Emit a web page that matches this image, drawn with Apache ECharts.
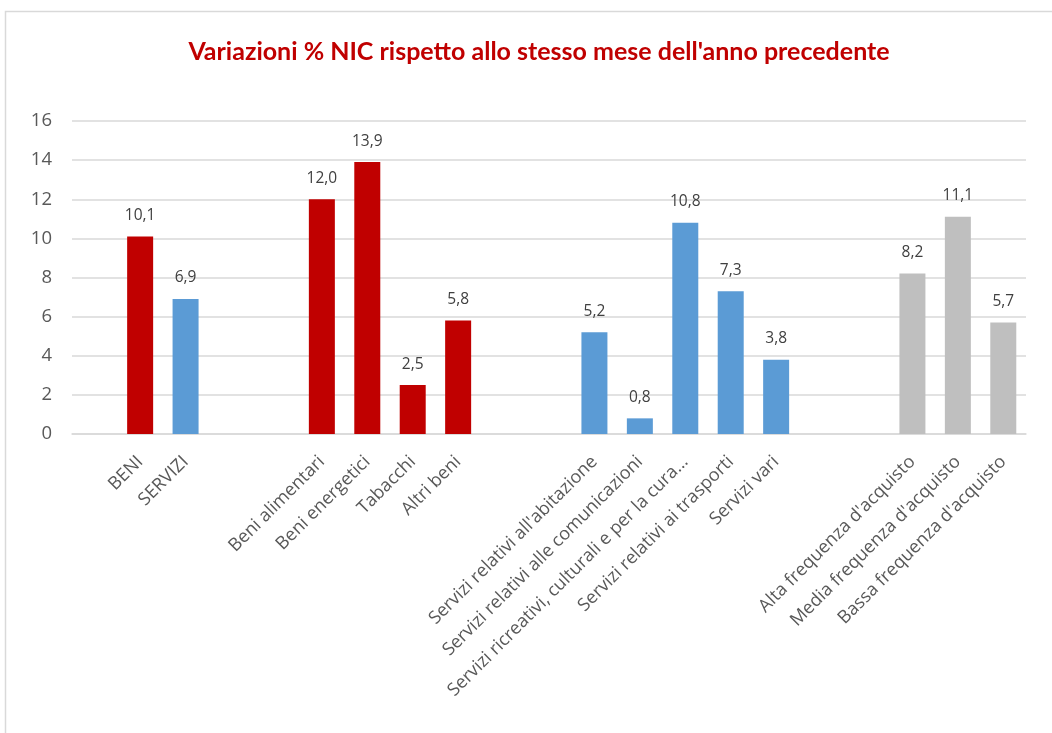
<!DOCTYPE html>
<html>
<head>
<meta charset="utf-8">
<script src="https://cdn.jsdelivr.net/npm/echarts@6/dist/echarts.min.js"></script>
<style>
  html, body { margin: 0; padding: 0; background: #fff; }
  #main { width: 1052px; height: 733px; }
</style>
</head>
<body>
<div id="main"></div>
<script>
// categorie (le stringhe vuote sono gli spazi tra i gruppi)
var categories = [
  '', 'BENI', 'SERVIZI', '', '',
  'Beni alimentari', 'Beni energetici', 'Tabacchi', 'Altri beni', '', '',
  "Servizi relativi all'abitazione", 'Servizi relativi alle comunicazioni',
  'Servizi ricreativi, culturali e per la cura...', 'Servizi relativi ai trasporti', 'Servizi vari', '', '',
  "Alta frequenza d'acquisto", "Media frequenza d'acquisto", "Bassa frequenza d'acquisto"
];
var values = [
  null, 10.1, 6.9, null, null,
  12.0, 13.9, 2.5, 5.8, null, null,
  5.2, 0.8, 10.8, 7.3, 3.8, null, null,
  8.2, 11.1, 5.7
];
// gruppo di colore per ogni categoria
var groups = [
  '', 'beni', 'servizi', '', '',
  'beni', 'beni', 'beni', 'beni', '', '',
  'servizi', 'servizi', 'servizi', 'servizi', 'servizi', '', '',
  'freq', 'freq', 'freq'
];
var yTicks = [0, 2, 4, 6, 8, 10, 12, 14, 16];

var colori = { beni: '#c00000', servizi: '#5b9bd5', freq: '#bfbfbf' };
var FONT = 'Open Sans';

var chart = echarts.init(document.getElementById('main'));

var option = {
  backgroundColor: '#fff',
  textStyle: { fontFamily: FONT },
  graphic: [{
    type: 'rect',
    shape: { x: 5.5, y: 11.5, width: 1080, height: 760 },
    style: { fill: 'none', stroke: '#d9d9d9', lineWidth: 1.5 },
    silent: true
  }],
  title: {
    text: "Variazioni % NIC rispetto allo stesso mese dell'anno precedente",
    left: 534,
    top: 34,
    textAlign: 'center',
    textStyle: { color: '#c00000', fontFamily: 'Lato', fontWeight: 'bold', fontSize: 25 }
  },
  grid: { left: 72, right: 26, top: 121, bottom: 299, containLabel: false },
  xAxis: {
    type: 'category',
    data: categories,
    axisLine: { lineStyle: { color: '#d9d9d9', width: 1.5 } },
    axisTick: { show: false },
    axisLabel: {
      interval: 0,
      rotate: 45,
      margin: 25,
      color: '#595959',
      fontSize: 18,
      fontFamily: FONT
    }
  },
  yAxis: {
    type: 'value',
    min: yTicks[0],
    max: yTicks[yTicks.length - 1],
    interval: 2,
    axisLine: { show: false },
    axisTick: { show: false },
    splitLine: { lineStyle: { color: '#d9d9d9', width: 1.5 } },
    axisLabel: { color: '#595959', fontSize: 18.5, margin: 20, fontFamily: FONT }
  },
  series: [{
    type: 'bar',
    barWidth: 26,
    data: values.map(function (v, i) {
      return { value: v, itemStyle: { color: colori[groups[i]] || '#ccc' } };
    }),
    label: {
      show: true,
      position: 'top',
      distance: 13,
      color: '#404040',
      fontSize: 15.5,
      fontFamily: FONT,
      formatter: function (p) {
        return p.value == null ? '' : p.value.toFixed(1).replace('.', ',');
      }
    }
  }]
};

chart.setOption(option);
</script>
</body>
</html>
